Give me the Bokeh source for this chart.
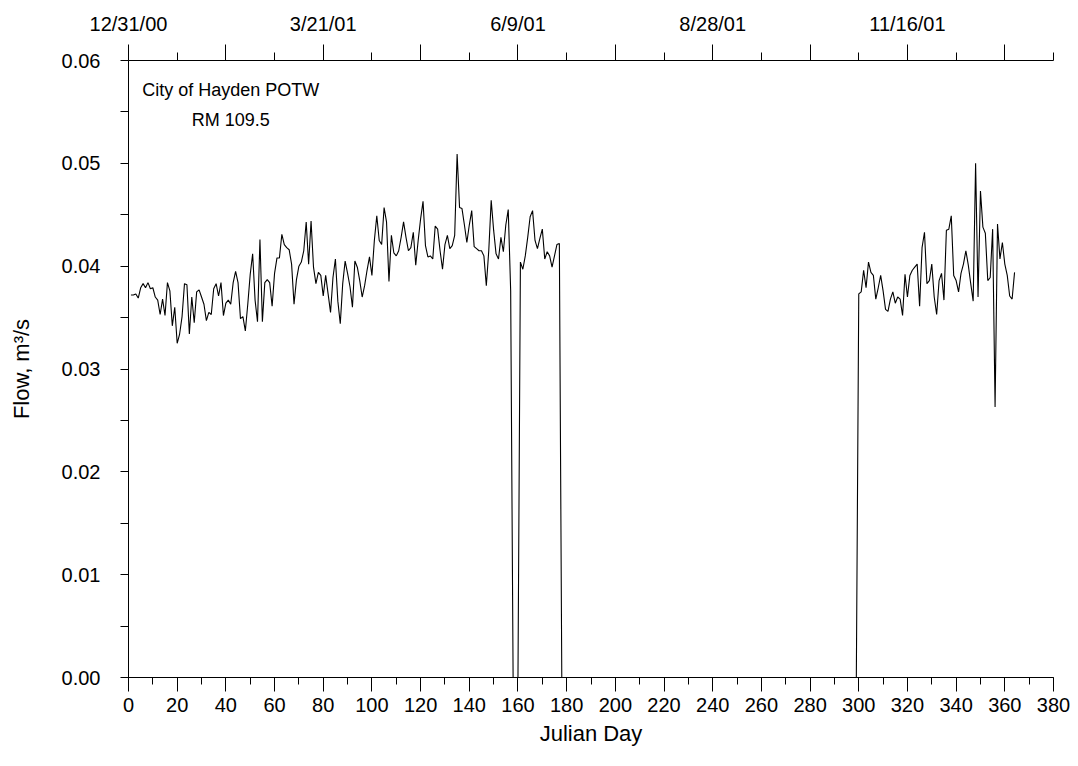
from bokeh.plotting import figure
from bokeh.models import LinearAxis, FixedTicker, Label, Range1d, ColumnDataSource, NumeralTickFormatter
from bokeh.embed import file_html
from bokeh.resources import INLINE

FONT = "Liberation Sans"

# Julian day / flow (m3/s), first block of record
days_spring = list(range(1, 179))
flow_spring = [
    0.0372, 0.0372, 0.0373, 0.0369, 0.0379, 0.0383, 0.0379, 0.0384, 0.0378, 0.0379,
    0.0370, 0.0367, 0.0353, 0.0368, 0.0352, 0.0384, 0.0376, 0.0342, 0.0360, 0.0325,
    0.0334, 0.0351, 0.0383, 0.0382, 0.0334, 0.0370, 0.0345, 0.0375, 0.0377, 0.0370,
    0.0363, 0.0347, 0.0355, 0.0353, 0.0378, 0.0383, 0.0371, 0.0384, 0.0352, 0.0364,
    0.0367, 0.0363, 0.0384, 0.0395, 0.0384, 0.0349, 0.0351, 0.0337, 0.0363, 0.0392,
    0.0412, 0.0367, 0.0346, 0.0426, 0.0346, 0.0384, 0.0387, 0.0384, 0.0361, 0.0393,
    0.0408, 0.0408, 0.0431, 0.0421, 0.0418, 0.0416, 0.0402, 0.0363, 0.0387, 0.0400,
    0.0404, 0.0415, 0.0443, 0.0402, 0.0444, 0.0399, 0.0383, 0.0394, 0.0391, 0.0371,
    0.0391, 0.0373, 0.0355, 0.0389, 0.0407, 0.0366, 0.0344, 0.0383, 0.0405, 0.0393,
    0.0380, 0.0360, 0.0405, 0.0399, 0.0386, 0.0370, 0.0381, 0.0396, 0.0409, 0.0391,
    0.0425, 0.0449, 0.0425, 0.0421, 0.0457, 0.0443, 0.0385, 0.0430, 0.0413, 0.0410,
    0.0415, 0.0428, 0.0443, 0.0428, 0.0415, 0.0418, 0.0433, 0.0401, 0.0425, 0.0446,
    0.0463, 0.0420, 0.0409, 0.0410, 0.0407, 0.0439, 0.0436, 0.0415, 0.0397, 0.0421,
    0.0430, 0.0417, 0.0420, 0.0430, 0.0509, 0.0457, 0.0456, 0.0440, 0.0423, 0.0440,
    0.0454, 0.0419, 0.0417, 0.0415, 0.0415, 0.0410, 0.0381, 0.0415, 0.0464, 0.0435,
    0.0412, 0.0407, 0.0428, 0.0414, 0.0440, 0.0455, 0.0376, 0.0, 0.0, 0.0,
    0.0404, 0.0397, 0.0410, 0.0428, 0.0448, 0.0454, 0.0425, 0.0417, 0.0427, 0.0436,
    0.0407, 0.0414, 0.0410, 0.0399, 0.0410, 0.0421, 0.0422, 0.0,
]

# second block of record
days_fall = list(range(299, 365))
flow_fall = [
    0.0, 0.0373, 0.0375, 0.0396, 0.0379, 0.0404, 0.0394, 0.0391, 0.0368, 0.0379,
    0.0391, 0.0376, 0.0358, 0.0356, 0.0368, 0.0375, 0.0364, 0.0370, 0.0368, 0.0352,
    0.0392, 0.0370, 0.0391, 0.0396, 0.0399, 0.0402, 0.0361, 0.0418, 0.0433, 0.0383,
    0.0386, 0.0402, 0.0370, 0.0353, 0.0386, 0.0393, 0.0367, 0.0435, 0.0436, 0.0449,
    0.0391, 0.0386, 0.0375, 0.0393, 0.0402, 0.0415, 0.0401, 0.0383, 0.0366, 0.0500,
    0.0370, 0.0473, 0.0438, 0.0432, 0.0386, 0.0389, 0.0436, 0.0263, 0.0441, 0.0407,
    0.0423, 0.0402, 0.0391, 0.0371, 0.0368, 0.0394,
]

bottom_ticks = list(range(0, 381, 20))
bottom_minor = list(range(0, 381, 10))
top_major = list(range(0, 361, 40))
top_minor = list(range(20, 381, 40))
top_labels = {0: "12/31/00", 80: "3/21/01", 160: "6/9/01", 240: "8/28/01", 320: "11/16/01"}
y_ticks = [0.0, 0.01, 0.02, 0.03, 0.04, 0.05, 0.06]
y_minor = [0.005, 0.015, 0.025, 0.035, 0.045, 0.055]

p = figure(width=1078, height=766, output_backend="svg", toolbar_location=None,
           x_range=Range1d(0, 380), y_range=Range1d(0, 0.06),
           x_axis_type=None, y_axis_type=None,
           min_border_left=128, min_border_right=25, min_border_top=60, min_border_bottom=89)
p.outline_line_color = None
p.background_fill_color = "white"
p.border_fill_color = "white"

src1 = ColumnDataSource(dict(day=days_spring, flow=flow_spring))
src2 = ColumnDataSource(dict(day=days_fall, flow=flow_fall))
p.line("day", "flow", source=src1, line_color="black", line_width=1.1)
p.line("day", "flow", source=src2, line_color="black", line_width=1.1)

def style(ax):
    ax.axis_line_color = "black"
    ax.axis_line_width = 1
    ax.major_tick_line_color = "black"
    ax.minor_tick_line_color = "black"
    ax.major_tick_in = 0
    ax.minor_tick_in = 0
    ax.major_label_text_font = FONT
    ax.major_label_text_font_size = "20px"
    ax.major_label_text_color = "black"
    ax.axis_label_text_font = FONT
    ax.axis_label_text_font_size = "22px"
    ax.axis_label_text_font_style = "normal"
    ax.axis_label_text_color = "black"

xb = LinearAxis(ticker=FixedTicker(ticks=bottom_ticks, minor_ticks=bottom_minor),
                axis_label="Julian Day")
style(xb)
xb.major_tick_out = 14
xb.minor_tick_out = 7
xb.major_label_standoff = 6
xb.axis_label_standoff = 6
p.add_layout(xb, "below")

overrides = {t: top_labels.get(t, "") for t in top_major}
xt = LinearAxis(ticker=FixedTicker(ticks=top_major, minor_ticks=top_minor),
                major_label_overrides=overrides)
style(xt)
xt.major_tick_out = 16
xt.minor_tick_out = 8
xt.major_label_standoff = 10
p.add_layout(xt, "above")

yl = LinearAxis(ticker=FixedTicker(ticks=y_ticks, minor_ticks=y_minor),
                formatter=NumeralTickFormatter(format="0.00"),
                axis_label="Flow, m³/s")
style(yl)
yl.major_tick_out = 8
yl.minor_tick_out = 8
yl.major_label_standoff = 20
yl.axis_label_standoff = 25
p.add_layout(yl, "left")

p.add_layout(Label(x=42, y=0.0571, text="City of Hayden POTW", text_align="center",
                   text_baseline="middle", text_font=FONT, text_font_size="18px",
                   text_color="black"))
p.add_layout(Label(x=42, y=0.0542, text="RM 109.5", text_align="center",
                   text_baseline="middle", text_font=FONT, text_font_size="18px",
                   text_color="black"))

open("out.html", "w").write(file_html(p, INLINE))
